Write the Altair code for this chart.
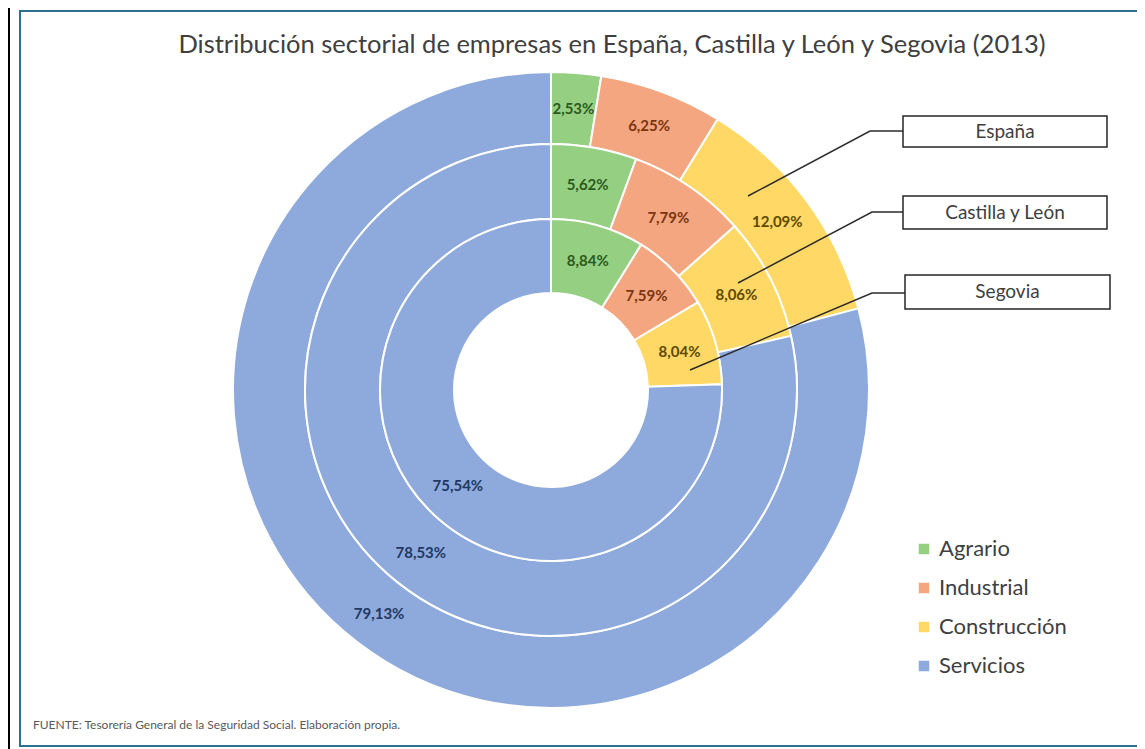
import altair as alt
import pandas as pd

# ---------------- data ----------------
sectores = ["Agrario", "Industrial", "Construcción", "Servicios"]
regiones = ["España", "Castilla y León", "Segovia"]
espana = [2.53, 6.25, 12.09, 79.13]
castilla_leon = [5.62, 7.79, 8.06, 78.53]
segovia = [8.84, 7.59, 8.04, 75.54]

titulo = "Distribución sectorial de empresas en España, Castilla y León y Segovia (2013)"
fuente = "FUENTE: Tesorería General de la Seguridad Social. Elaboración propia."

# ---------------- styles / layout ----------------
fill_colors = ["#95CF82", "#F3A67F", "#FFD865", "#8EAADC"]
text_colors = ["#2C5A1C", "#7A3512", "#5E4A00", "#1F3864"]
FONT = "Lato"
CX, CY = 543, 382
rings = {"España": (246, 318), "Castilla y León": (171, 246), "Segovia": (97, 171)}

rows = []
for reg, vals in zip(regiones, [espana, castilla_leon, segovia]):
    for i, (s, v) in enumerate(zip(sectores, vals)):
        rows.append({"region": reg, "sector": s, "orden": i, "valor": v,
                     "etiqueta": f"{v:.2f}%".replace(".", ",")})
df = pd.DataFrame(rows)

color_scale = alt.Scale(domain=sectores, range=fill_colors)
text_scale = alt.Scale(domain=sectores, range=text_colors)

layers = []
first = True
for reg in regiones:
    r_in, r_out = rings[reg]
    base = alt.Chart(df).transform_filter(alt.datum.region == reg).encode(
        theta=alt.Theta("valor:Q", stack="normalize"),
        order=alt.Order("orden:Q"),
        x=alt.value(CX), y=alt.value(CY),
    )
    if first:
        leg = alt.Legend(title=None, orient="none", legendX=905, legendY=530,
                         symbolType="square", symbolSize=110, symbolStrokeWidth=0,
                         labelFontSize=22, labelFont=FONT, labelColor="#404040",
                         rowPadding=17, labelOffset=4)
        first = False
    else:
        leg = None
    arc = base.mark_arc(radius=r_out, radius2=r_in, stroke="white", strokeWidth=2).encode(
        color=alt.Color("sector:N", scale=color_scale, legend=leg, sort=sectores)
    )
    txt = base.mark_text(radius=(r_in + r_out) / 2, font=FONT, fontSize=15, fontWeight="bold").encode(
        text="etiqueta:N",
        fill=alt.Fill("sector:N", scale=text_scale, legend=None),
    )
    layers += [arc, txt]

# leader lines (annotation positions, view pixels)
leaders = pd.DataFrame([
    {"g": "España", "k": 0, "px": 895, "py": 123},
    {"g": "España", "k": 1, "px": 862, "py": 123},
    {"g": "España", "k": 2, "px": 740, "py": 188},
    {"g": "Castilla y León", "k": 0, "px": 895, "py": 204},
    {"g": "Castilla y León", "k": 1, "px": 864, "py": 204},
    {"g": "Castilla y León", "k": 2, "px": 730, "py": 275},
    {"g": "Segovia", "k": 0, "px": 897, "py": 285},
    {"g": "Segovia", "k": 1, "px": 864, "py": 285},
    {"g": "Segovia", "k": 2, "px": 682, "py": 362},
])
lines = alt.Chart(leaders).mark_line(color="#2B2B2B", strokeWidth=1.5).encode(
    x=alt.X("px:Q", scale=None), y=alt.Y("py:Q", scale=None),
    detail="g:N", order="k:Q")

boxes_df = pd.DataFrame([
    {"t": "España", "x1": 895, "x2": 1099, "y1": 108, "y2": 139},
    {"t": "Castilla y León", "x1": 895, "x2": 1099, "y1": 188, "y2": 221},
    {"t": "Segovia", "x1": 897, "x2": 1102, "y1": 267, "y2": 301},
])
boxes = alt.Chart(boxes_df).mark_rect(fill="white", stroke="#262626", strokeWidth=1.5).encode(
    x=alt.X("x1:Q", scale=None), x2="x2:Q", y=alt.Y("y1:Q", scale=None), y2="y2:Q")
box_text = alt.Chart(boxes_df).transform_calculate(
    cx="(datum.x1 + datum.x2) / 2", cy="(datum.y1 + datum.y2) / 2"
).mark_text(font=FONT, fontSize=19, color="#404040").encode(
    x=alt.X("cx:Q", scale=None), y=alt.Y("cy:Q", scale=None), text="t:N")

# frame, title, footer
frame = alt.Chart(pd.DataFrame({"a": [0]})).mark_rect(
    fill="white", stroke="#2F6F8F", strokeWidth=2).encode(
    x=alt.value(12), x2=alt.value(1160), y=alt.value(3), y2=alt.value(738))
black = alt.Chart(pd.DataFrame({"a": [0]})).mark_rule(color="black", strokeWidth=2).encode(
    x=alt.value(1), y=alt.value(0), y2=alt.value(741))
title = alt.Chart(pd.DataFrame({"t": [titulo]})).mark_text(
    font=FONT, fontSize=25.5, color="#404040").encode(
    x=alt.value(604), y=alt.value(37), text="t:N")
footer = alt.Chart(pd.DataFrame({"t": [fuente]})).mark_text(
    font=FONT, fontSize=12, color="#595959", align="left").encode(
    x=alt.value(25), y=alt.value(717), text="t:N")

chart = alt.layer(frame, black, title, *layers, lines, boxes, box_text, footer).resolve_scale(
    fill="independent"
).properties(
    width=1129, height=741, padding=0,
    autosize=alt.AutoSizeParams(type="none"),
    background="white",
).configure_view(stroke=None)

chart.save("out.html", embed_options={"renderer": "svg", "actions": False})
